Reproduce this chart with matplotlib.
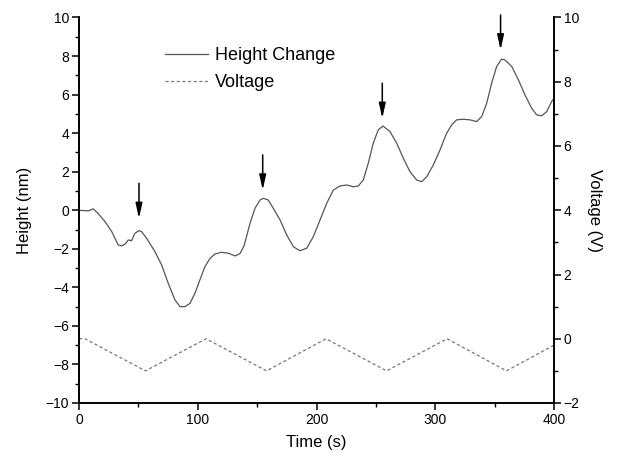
import numpy as np
import matplotlib.pyplot as plt
from matplotlib.ticker import MultipleLocator

plt.rcParams['font.family'] = ['Liberation Sans', 'DejaVu Sans']

# height trace (nm) vs time (s)
time_h = [0, 7.8, 12, 16, 22, 27.5, 33, 36, 38.9, 41.5, 44.3, 47, 50.5, 52.6,
          57, 64, 69.6, 75.2, 80.8, 85, 89.3, 93.5, 97.7, 101.9, 106, 110.3,
          114.5, 120, 125.7, 131.5, 135.5, 139, 144, 148.2, 152.4, 155.2, 159.4,
          163.6, 169.3, 174.9, 180.5, 186, 191.8, 197.3, 203, 208.6, 214.2,
          219.8, 225.4, 231, 235.2, 239.4, 243.6, 247.8, 252, 256, 261.9,
          267.5, 273.1, 278.7, 284.4, 288.6, 292.8, 298.4, 304, 309.6, 313.9,
          318, 323.6, 329.3, 334.9, 339.1, 343.3, 347.5, 351.7, 355.9, 358.7,
          364.4, 370, 375.6, 381.2, 385.4, 389.6, 393.9, 398, 400]
height = [0, -0.03, 0.07, -0.16, -0.6, -1.1, -1.8, -1.85, -1.75, -1.54, -1.58,
          -1.2, -1.06, -1.1, -1.46, -2.15, -2.84, -3.8, -4.65, -5.0, -5.0, -4.83,
          -4.3, -3.6, -2.93, -2.5, -2.27, -2.18, -2.23, -2.37, -2.25, -1.85,
          -0.68, 0.1, 0.53, 0.62, 0.53, 0.1, -0.5, -1.28, -1.89, -2.1, -1.97,
          -1.37, -0.5, 0.36, 1.05, 1.26, 1.31, 1.22, 1.26, 1.57, 2.44, 3.48,
          4.17, 4.37, 4.08, 3.48, 2.7, 2.0, 1.57, 1.48, 1.74, 2.35, 3.13, 4.0,
          4.43, 4.69, 4.72, 4.69, 4.6, 4.86, 5.55, 6.59, 7.46, 7.84, 7.8, 7.46,
          6.77, 5.98, 5.29, 4.95, 4.9, 5.12, 5.64, 5.8]

# applied voltage (V), triangle wave corners
time_v = [0, 5, 56, 107, 158, 208, 259, 310, 360, 400]
voltage = [0, 0, -1, 0, -1, 0, -1, 0, -1, -0.2]

# arrows marking the height peaks: (time, tail height, tip height)
arrow_t = [50.5, 154.7, 255.4, 355]
arrow_top = [1.4, 2.87, 6.59, 10.13]
arrow_tip = [-0.42, 1.05, 4.77, 8.32]

fig = plt.figure(figsize=(6.18, 4.59), dpi=100)
ax = fig.add_axes([79 / 618, 1 - 403 / 459, 475 / 618, 385.5 / 459])
ax2 = ax.twinx()

line_h, = ax.plot(time_h, height, color='#555555', lw=0.9, label='Height Change')
line_v, = ax2.plot(time_v, voltage, color='#777777', lw=0.9,
                   dashes=(2.5, 2), label='Voltage')

for t, top, tip in zip(arrow_t, arrow_top, arrow_tip):
    ax.annotate('', xy=(t, tip), xytext=(t, top), annotation_clip=False,
                arrowprops=dict(arrowstyle='-|>,head_width=0.2,head_length=0.9',
                                color='black', lw=1.1, shrinkA=0, shrinkB=0))

ax.set_xlim(0, 400)
ax.set_ylim(-10, 10)
ax2.set_ylim(-2, 10)

ax.xaxis.set_major_locator(MultipleLocator(100))
ax.xaxis.set_minor_locator(MultipleLocator(50))
ax.yaxis.set_major_locator(MultipleLocator(2))
ax.yaxis.set_minor_locator(MultipleLocator(1))
ax2.yaxis.set_major_locator(MultipleLocator(2))
ax2.yaxis.set_minor_locator(MultipleLocator(1))

for a in (ax, ax2):
    a.spines['top'].set_visible(False)
    for s in a.spines.values():
        s.set_linewidth(1.2)
    a.tick_params(which='major', direction='out', length=5, width=1.1,
                  labelsize=10, pad=2)
    a.tick_params(which='minor', direction='out', length=3, width=1.0)

ax.set_xlabel('Time (s)', fontsize=12, labelpad=6)
ax.set_ylabel('Height (nm)', fontsize=12, labelpad=10)
ax2.set_ylabel('Voltage (V)', fontsize=12, rotation=270, labelpad=16)

ax.legend([line_h, line_v], ['Height Change', 'Voltage'], loc='upper left',
          bbox_to_anchor=(0.147, 0.965), frameon=False, fontsize=13,
          handlelength=2.4, handletextpad=0.35, labelspacing=0.55)

fig.savefig('out.png', dpi=100)
